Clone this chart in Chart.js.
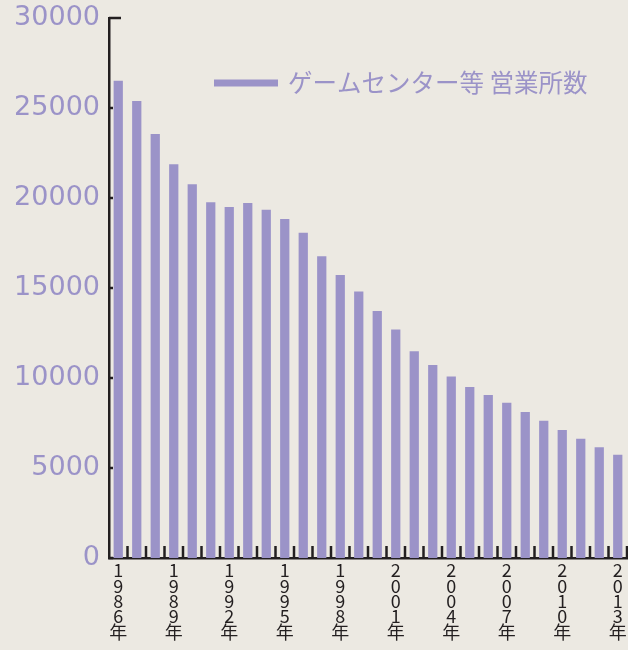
<!DOCTYPE html>
<html>
<head>
<meta charset="utf-8">
<script src="https://cdn.jsdelivr.net/npm/chart.js@4"></script>
<style>
  html, body { margin: 0; padding: 0; background: #ece9e2; }
  #wrap { width: 628px; height: 650px; }
</style>
</head>
<body>
<div id="wrap"><canvas id="arcadeGraph"></canvas></div>
<script>
// 年次と営業所数
const years = ['1986', '1987', '1988', '1989', '1990', '1991', '1992', '1993', '1994', '1995',
               '1996', '1997', '1998', '1999', '2000', '2001', '2002', '2003', '2004', '2005',
               '2006', '2007', '2008', '2009', '2010', '2011', '2012', '2013'];
const shops = [26520, 25390, 23560, 21870, 20760, 19760, 19500, 19720, 19350, 18830,
               18070, 16760, 15720, 14800, 13720, 12700, 11480, 10720, 10090, 9500,
               9060, 8630, 8110, 7630, 7110, 6630, 6150, 5740];
const labeledYears = ['1986', '1989', '1992', '1995', '1998', '2001', '2004', '2007', '2010', '2013'];
const yTicks = [0, 5000, 10000, 15000, 20000, 25000, 30000];
const seriesName = 'ゲームセンター等 営業所数';

const barColor = '#9b93c8';
const inkColor = '#231f20';

// 軸の小さい目盛り (x は棒の間、y は軸の右側)
const axisMarks = {
    id: 'axisMarks',
    afterDatasetsDraw(chart) {
        const ctx = chart.ctx;
        const xs = chart.scales.x, ys = chart.scales.y;
        const area = chart.chartArea;
        const step = xs.getPixelForValue(1) - xs.getPixelForValue(0);
        ctx.save();
        ctx.strokeStyle = inkColor;
        ctx.lineWidth = 2.5;
        for (let i = 1; i <= years.length; i++) {
            let x = xs.getPixelForValue(i) - step / 2;
            ctx.beginPath();
            ctx.moveTo(x, area.bottom);
            ctx.lineTo(x, area.bottom - 12);
            ctx.stroke();
        }
        yTicks.forEach(function(v) {
            let y = ys.getPixelForValue(v);
            let len = v === yTicks[yTicks.length - 1] ? 12 : 4;
            ctx.beginPath();
            ctx.moveTo(area.left, y);
            ctx.lineTo(area.left + len, y);
            ctx.stroke();
        });
        ctx.restore();
    }
};

// 凡例 (グラフ内に配置)
const innerLegend = {
    id: 'innerLegend',
    afterDraw(chart) {
        const ctx = chart.ctx;
        const area = chart.chartArea;
        const ds = chart.data.datasets[0];
        let x0 = area.left + 105;
        let y0 = area.top + 65;
        ctx.save();
        ctx.strokeStyle = ds.backgroundColor;
        ctx.lineWidth = 7;
        ctx.beginPath();
        ctx.moveTo(x0, y0);
        ctx.lineTo(x0 + 64, y0);
        ctx.stroke();
        ctx.fillStyle = ds.backgroundColor;
        ctx.font = '24.5px "Noto Sans CJK JP"';
        ctx.textBaseline = 'middle';
        ctx.fillText(ds.label, x0 + 74, y0);
        ctx.restore();
    }
};

let ctx = document.getElementById('arcadeGraph').getContext('2d');
new Chart(ctx, {
    type: 'bar',
    data: {
        labels: years,
        datasets: [{
            label: seriesName,
            data: shops,
            backgroundColor: barColor,
            borderWidth: 0,
            barPercentage: 1,
            categoryPercentage: 0.5
        }]
    },
    options: {
        responsive: true,
        maintainAspectRatio: false,
        animation: false,
        layout: { padding: { top: 18, right: 1, left: 0, bottom: 0 } },
        plugins: {
            legend: { display: false },
            tooltip: { enabled: false }
        },
        scales: {
            x: {
                afterFit: function(scale) {
                    scale.height = 92;
                    scale.paddingLeft = 0;
                    scale.paddingRight = 0;
                },
                grid: { display: false, drawTicks: false },
                border: { display: true, color: inkColor, width: 2.5 },
                ticks: {
                    autoSkip: false,
                    maxRotation: 0,
                    minRotation: 0,
                    padding: 5,
                    color: inkColor,
                    font: { family: '"Noto Sans CJK JP"', size: 18, lineHeight: 0.85 },
                    callback: function(value, index) {
                        let y = years[index];
                        return labeledYears.includes(y) ? y.split('').concat('年') : '';
                    }
                }
            },
            y: {
                min: 0,
                max: 30000,
                afterFit: function(scale) {
                    scale.width = 109;
                    scale.paddingTop = 0;
                    scale.paddingBottom = 0;
                },
                afterBuildTicks: function(scale) {
                    scale.ticks = yTicks.map(v => ({ value: v }));
                },
                grid: { display: false, drawTicks: false },
                border: { display: true, color: inkColor, width: 2.5 },
                ticks: {
                    padding: 9,
                    color: barColor,
                    font: { family: '"DejaVu Sans"', size: 27 },
                    callback: function(value) { return String(value); }
                }
            }
        }
    },
    plugins: [axisMarks, innerLegend]
});
</script>
</body>
</html>
